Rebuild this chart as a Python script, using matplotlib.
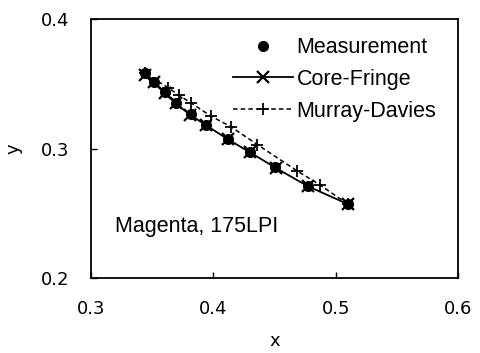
import numpy as np
import matplotlib.pyplot as plt

# measured points
meas_x = [0.344, 0.351, 0.360, 0.369, 0.382, 0.394, 0.412, 0.430, 0.450, 0.477, 0.510]
meas_y = [0.358, 0.351, 0.344, 0.335, 0.327, 0.318, 0.307, 0.297, 0.286, 0.271, 0.257]

# core-fringe model
cf_x = [0.344, 0.351, 0.360, 0.369, 0.381, 0.394, 0.412, 0.430, 0.451, 0.477, 0.510]
cf_y = [0.357, 0.351, 0.343, 0.335, 0.326, 0.318, 0.307, 0.297, 0.285, 0.271, 0.257]

# murray-davies model
md_x = [0.344, 0.363, 0.372, 0.382, 0.398, 0.414, 0.436, 0.468, 0.487, 0.510]
md_y = [0.358, 0.347, 0.341, 0.335, 0.325, 0.317, 0.303, 0.283, 0.272, 0.257]

plt.rcParams['font.family'] = 'DejaVu Sans'

fig = plt.figure(figsize=(4.8, 3.53), dpi=100)
ax = fig.add_axes([0.19, 0.2125, 0.764, 0.7335])

ax.plot(md_x, md_y, color='black', ls=(0, (3, 2)), lw=1.1, marker='+', ms=9,
        mew=1.3, label='Murray-Davies', zorder=2)
ax.plot(cf_x, cf_y, color='black', ls='-', lw=1.3, marker='x', ms=9,
        mew=1.6, label='Core-Fringe', zorder=3)
ax.plot(meas_x, meas_y, ls='none', marker='o', ms=7, color='black',
        label='Measurement', zorder=4)

ax.set_xlim(0.3, 0.6)
ax.set_ylim(0.2, 0.4)
ax.set_xticks([0.3, 0.4, 0.5, 0.6])
ax.set_yticks([0.2, 0.3, 0.4])
ax.set_xticklabels(['0.3', '0.4', '0.5', '0.6'])
ax.set_yticklabels(['0.2', '0.3', '0.4'])
ax.tick_params(direction='in', length=4, width=1, labelsize=13)
ax.tick_params(axis='x', pad=16)
ax.tick_params(axis='y', pad=16)
for s in ax.spines.values():
    s.set_linewidth(1.3)

ax.set_xlabel('x', fontsize=13, labelpad=10)
ax.set_ylabel('y', fontsize=13, labelpad=13)

handles, labels = ax.get_legend_handles_labels()
order = [2, 1, 0]
ax.legend([handles[i] for i in order], [labels[i] for i in order],
          loc='upper left', bbox_to_anchor=(0.387, 0.93), frameon=False,
          borderpad=0, borderaxespad=0, handlelength=2.8, handletextpad=0.15,
          labelspacing=0.5, numpoints=1,
          prop={'family': 'Liberation Sans', 'size': 15.5})

ax.text(0.065, 0.197, 'Magenta, 175LPI', transform=ax.transAxes,
        family='Liberation Sans', fontsize=15.5, va='center', ha='left')

fig.savefig('out.png', dpi=100)
